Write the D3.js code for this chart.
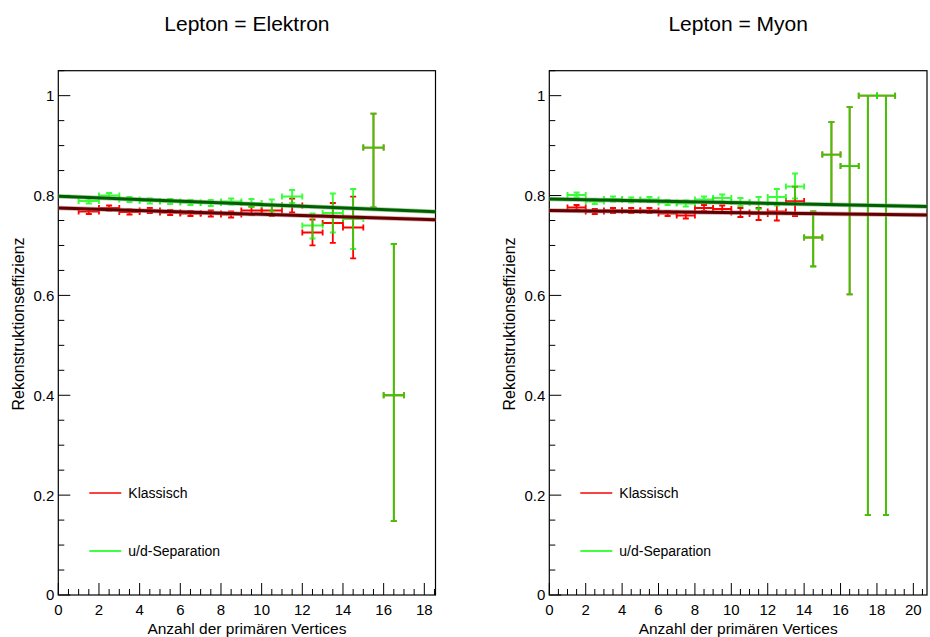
<!DOCTYPE html>
<html>
<head>
<meta charset="utf-8">
<script src="https://cdn.jsdelivr.net/npm/d3@7"></script>
<style>
  html, body { margin: 0; padding: 0; background: #fff; }
  svg { display: block; font-family: "Liberation Sans", Arial, Helvetica, sans-serif; }
</style>
</head>
<body>
<svg id="chart" width="930" height="637"></svg>
<script>
// ---------------- DATA ----------------
const panelTitles = ["Lepton = Elektron", "Lepton = Myon"];
const xAxisTitle = "Anzahl der primären Vertices";
const yAxisTitle = "Rekonstruktionseffizienz";
const legendLabels = ["Klassisch", "u/d-Separation"];
const yTickValues = [0, 0.2, 0.4, 0.6, 0.8, 1];
const yTickLabels = ["0", "0.2", "0.4", "0.6", "0.8", "1"];

// Elektron panel
const elekBins = [1.5, 2.5, 3.5, 4.5, 5.5, 6.5, 7.5, 8.5, 9.5, 10.5, 11.5, 12.5, 13.5, 14.5, 15.5, 16.5];
const elekKlassisch      = [0.768, 0.775, 0.767, 0.770, 0.766, 0.764, 0.764, 0.762, 0.770, 0.770, 0.780, 0.726, 0.745, 0.736, 0.896, 0.400];
const elekKlassischErrLo = [0.005, 0.005, 0.005, 0.005, 0.005, 0.005, 0.006, 0.006, 0.008, 0.011, 0.014, 0.026, 0.040, 0.062, 0.120, 0.252];
const elekKlassischErrHi = [0.005, 0.005, 0.005, 0.005, 0.005, 0.005, 0.006, 0.006, 0.008, 0.011, 0.014, 0.026, 0.040, 0.062, 0.068, 0.303];
const elekUD             = [0.789, 0.800, 0.792, 0.789, 0.788, 0.786, 0.785, 0.788, 0.785, 0.780, 0.798, 0.740, 0.765, 0.753, 0.896, 0.400];
const elekUDErrLo        = [0.005, 0.005, 0.005, 0.005, 0.005, 0.005, 0.006, 0.006, 0.008, 0.012, 0.013, 0.026, 0.039, 0.060, 0.120, 0.252];
const elekUDErrHi        = [0.005, 0.005, 0.005, 0.005, 0.005, 0.005, 0.006, 0.006, 0.008, 0.012, 0.013, 0.024, 0.039, 0.060, 0.068, 0.303];
const elekXMax = 18.55;
const elekFitKlassisch = [0.775, 0.7516];   // value at x = 0 and x = xMax
const elekFitUD        = [0.7986, 0.7675];

// Myon panel
const myonBins = [1.5, 2.5, 3.5, 4.5, 5.5, 6.5, 7.5, 8.5, 9.5, 10.5, 11.5, 12.5, 13.5, 14.5, 15.5, 16.5, 17.5, 18.5];
const myonKlassisch      = [0.776, 0.768, 0.770, 0.770, 0.770, 0.764, 0.760, 0.775, 0.773, 0.766, 0.763, 0.768, 0.789, 0.716, 0.882, 0.859, 1.000, 1.000];
const myonKlassischErrLo = [0.005, 0.005, 0.005, 0.005, 0.005, 0.005, 0.006, 0.006, 0.007, 0.009, 0.012, 0.018, 0.030, 0.058, 0.099, 0.257, 0.840, 0.840];
const myonKlassischErrHi = [0.005, 0.005, 0.005, 0.005, 0.005, 0.005, 0.006, 0.006, 0.007, 0.009, 0.012, 0.017, 0.029, 0.052, 0.065, 0.118, 0.000, 0.000];
const myonUD             = [0.801, 0.788, 0.793, 0.791, 0.792, 0.786, 0.784, 0.792, 0.795, 0.787, 0.785, 0.797, 0.818, 0.716, 0.882, 0.859, 1.000, 1.000];
const myonUDErrLo        = [0.005, 0.005, 0.005, 0.005, 0.005, 0.005, 0.006, 0.006, 0.007, 0.008, 0.012, 0.017, 0.024, 0.058, 0.099, 0.257, 0.840, 0.840];
const myonUDErrHi        = [0.005, 0.005, 0.005, 0.005, 0.005, 0.005, 0.006, 0.006, 0.007, 0.008, 0.012, 0.016, 0.026, 0.052, 0.065, 0.118, 0.000, 0.000];
const myonXMax = 20.75;
const myonFitKlassisch = [0.7698, 0.761];
const myonFitUD        = [0.7931, 0.7778];

// ---------------- STYLE / LAYOUT ----------------
const colKl = "#ff0000", colUD = "#00ff00";
const fitColKl = "#600000", fitHaloKl = "#c07070";
const fitColUD = "#006000", fitHaloUD = "#70b070";

const panels = [
  { title: panelTitles[0], bins: elekBins, kl: elekKlassisch, klLo: elekKlassischErrLo, klHi: elekKlassischErrHi,
    ud: elekUD, udLo: elekUDErrLo, udHi: elekUDErrHi, xMax: elekXMax, fitKl: elekFitKlassisch, fitUD: elekFitUD,
    left: 58.3, right: 435.5 },
  { title: panelTitles[1], bins: myonBins, kl: myonKlassisch, klLo: myonKlassischErrLo, klHi: myonKlassischErrHi,
    ud: myonUD, udLo: myonUDErrLo, udHi: myonUDErrHi, xMax: myonXMax, fitKl: myonFitKlassisch, fitUD: myonFitUD,
    left: 549.3, right: 927 }
];
const plotTop = 70.7, plotBottom = 595;

const svg = d3.select("#chart");

panels.forEach(p => {
  const g = svg.append("g");
  const x = d3.scaleLinear().domain([0, p.xMax]).range([p.left, p.right]);
  const y = d3.scaleLinear().domain([0, 1.05]).range([plotBottom, plotTop]);

  // frame
  g.append("rect").attr("x", p.left).attr("y", plotTop)
    .attr("width", p.right - p.left).attr("height", plotBottom - plotTop)
    .attr("fill", "none").attr("stroke", "#000").attr("stroke-width", 1.2);

  // x axis ticks
  const xMinor = d3.range(0, p.xMax + 1e-9, 0.5);
  g.selectAll(".xt").data(xMinor).join("line")
    .attr("x1", d => x(d)).attr("x2", d => x(d))
    .attr("y1", plotBottom).attr("y2", d => plotBottom - (Math.abs(d % 2) < 1e-9 ? 12 : 6))
    .attr("stroke", "#000").attr("stroke-width", 1);
  const xMajor = d3.range(0, p.xMax + 1e-9, 2);
  g.selectAll(".xl").data(xMajor).join("text")
    .attr("x", d => x(d)).attr("y", 615).attr("text-anchor", "middle")
    .attr("font-size", 15).attr("fill", "#000").text(d => d3.format("d")(d));

  // y axis ticks
  const yMinor = d3.range(0, 1.05 + 1e-9, 0.05);
  g.selectAll(".yt").data(yMinor).join("line")
    .attr("y1", d => y(d)).attr("y2", d => y(d))
    .attr("x1", p.left).attr("x2", (d, i) => p.left + (i % 4 === 0 ? 12 : 6))
    .attr("stroke", "#000").attr("stroke-width", 1);
  g.selectAll(".yl").data(yTickValues).join("text")
    .attr("x", p.left - 4).attr("y", d => y(d)).attr("dy", "0.36em")
    .attr("text-anchor", "end").attr("font-size", 15).attr("fill", "#000")
    .text((d, i) => yTickLabels[i]);

  // titles
  const cx = (p.left + p.right) / 2;
  g.append("text").attr("x", cx).attr("y", 31).attr("text-anchor", "middle")
    .attr("font-size", 21).text(p.title);
  g.append("text").attr("x", cx).attr("y", 634).attr("text-anchor", "middle")
    .attr("font-size", 15.5).text(xAxisTitle);
  g.append("text").attr("transform", `translate(${p.left - 34},324) rotate(-90)`)
    .attr("text-anchor", "middle").attr("font-size", 16).text(yAxisTitle);

  // error-bar points
  function drawPoints(vals, lo, hi, color, width, opacity) {
    const pts = p.bins.map((b, i) => ({ b, v: vals[i], lo: vals[i] - lo[i], hi: vals[i] + hi[i] }));
    const gg = g.append("g").attr("stroke", color).attr("stroke-width", width)
      .attr("stroke-opacity", opacity).attr("fill", "none");
    const cap = 3;
    pts.forEach(d => {
      const X = x(d.b), Y = y(d.v);
      const xl = x(d.b - 0.5), xr = x(d.b + 0.5);
      const path = d3.path();
      path.moveTo(xl, Y); path.lineTo(xr, Y);
      path.moveTo(xl, Y - cap); path.lineTo(xl, Y + cap);
      path.moveTo(xr, Y - cap); path.lineTo(xr, Y + cap);
      path.moveTo(X, y(d.lo)); path.lineTo(X, y(d.hi));
      path.moveTo(X - cap, y(d.lo)); path.lineTo(X + cap, y(d.lo));
      path.moveTo(X - cap, y(d.hi)); path.lineTo(X + cap, y(d.hi));
      gg.append("path").attr("d", path.toString());
    });
  }
  drawPoints(p.kl, p.klLo, p.klHi, colKl, 1.8, 1);
  drawPoints(p.ud, p.udLo, p.udHi, colUD, 1.9, 0.78);

  // fit lines
  function drawFit(vals, core, halo) {
    const pts = [[0, vals[0]], [p.xMax, vals[1]]];
    const line = d3.line().x(d => x(d[0])).y(d => y(d[1]));
    g.append("path").attr("d", line(pts)).attr("stroke", halo).attr("stroke-width", 4.5)
      .attr("stroke-opacity", 0.6).attr("fill", "none");
    g.append("path").attr("d", line(pts)).attr("stroke", core).attr("stroke-width", 3).attr("fill", "none");
  }
  drawFit(p.fitKl, fitColKl, fitHaloKl);
  drawFit(p.fitUD, fitColUD, fitHaloUD);

  // legend
  const lx = p.left + 31;
  [[legendLabels[0], colKl, 493], [legendLabels[1], colUD, 551]].forEach(([lab, c, ly]) => {
    g.append("line").attr("x1", lx).attr("x2", lx + 32).attr("y1", ly).attr("y2", ly)
      .attr("stroke", c).attr("stroke-width", 1.3);
    g.append("text").attr("x", lx + 39).attr("y", ly + 5).attr("font-size", 14).text(lab);
  });
});
</script>
</body>
</html>
